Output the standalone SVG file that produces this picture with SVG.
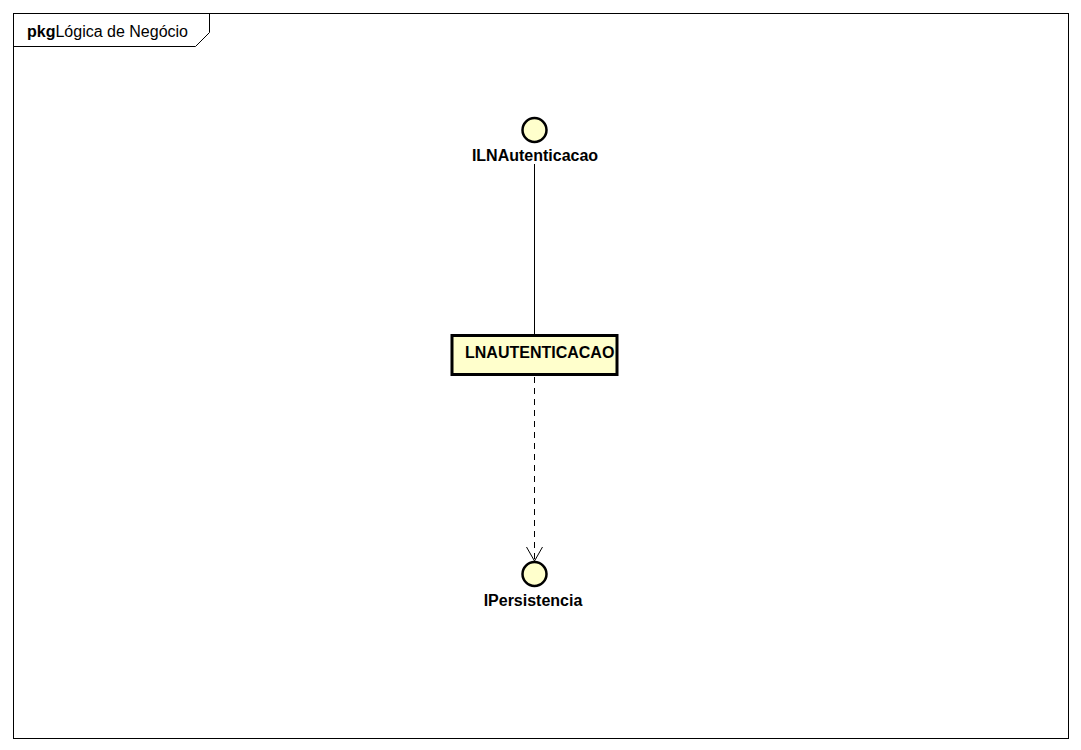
<svg xmlns="http://www.w3.org/2000/svg" width="1081" height="750" viewBox="0 0 1081 750">
  <style>
    .frame { fill: none; stroke: #000; stroke-width: 1; }
    .iface { fill: #ffffcc; stroke: #000; stroke-width: 2.5; }
    .comp { fill: #ffffcc; stroke: #000; stroke-width: 3; }
    .label { font-family: "Liberation Sans", Arial, sans-serif; font-size: 16px; font-weight: bold; fill: #000; }
    .title { font-family: "Liberation Sans", Arial, sans-serif; font-size: 16px; fill: #000; }
    .edge { fill: none; stroke: #000; stroke-width: 1; }
    .dash { stroke-dasharray: 6 5; }
  </style>
  <defs>
    <marker id="open-arrow" markerWidth="20" markerHeight="20" refX="15" refY="10" orient="auto" markerUnits="userSpaceOnUse">
      <path d="M1,2 L15,10 L1,18" fill="none" stroke="#000" stroke-width="1"/>
    </marker>
  </defs>
  <rect width="1081" height="750" fill="#fff"/>

  <!-- package frame -->
  <g id="package">
    <rect class="frame" x="13.5" y="13.5" width="1055" height="725"/>
    <path class="frame" d="M13.5,46.5 H195.5 L209.5,32.5 V13.5"/>
    <text class="title" x="27" y="37"><tspan font-weight="bold">pkg</tspan>Lógica de Negócio</text>
  </g>

  <!-- connectors -->
  <g id="connectors">
    <line class="edge" x1="534.5" y1="164" x2="534.5" y2="335"/>
    <line class="edge dash" x1="534.5" y1="377" x2="534.5" y2="561" marker-end="url(#open-arrow)"/>
  </g>

  <g id="ILNAutenticacao">
    <circle class="iface" cx="534.5" cy="130" r="12"/>
    <text class="label" x="535" y="161" text-anchor="middle">ILNAutenticacao</text>
  </g>

  <g id="LNAUTENTICACAO">
    <rect class="comp" x="452" y="335.5" width="165" height="39"/>
    <text class="label" x="465" y="358">LNAUTENTICACAO</text>
  </g>

  <g id="IPersistencia">
    <circle class="iface" cx="534.5" cy="574" r="12"/>
    <text class="label" x="533" y="606" text-anchor="middle">IPersistencia</text>
  </g>
</svg>
